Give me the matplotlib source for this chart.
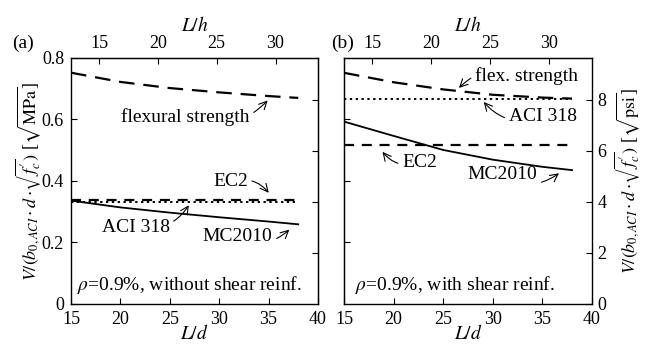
import matplotlib
matplotlib.use("Agg")
import matplotlib.pyplot as plt
from matplotlib.ticker import FixedLocator, NullFormatter

plt.rcParams['font.family'] = ['Liberation Serif', 'DejaVu Serif']
plt.rcParams['mathtext.fontset'] = 'stix'
plt.rcParams['font.size'] = 13

# span-to-depth ratios at which curves were read
ld = [15, 20, 25, 30, 35, 38]

# (a) without shear reinforcement, sqrt(MPa)
flex_a = [0.752, 0.722, 0.702, 0.688, 0.676, 0.670]
mc2010_a = [0.336, 0.314, 0.297, 0.282, 0.268, 0.259]
ec2_a = [0.338, 0.338]
aci_a = [0.333, 0.333]

# (b) with shear reinforcement, sqrt(psi)
flex_b = [9.05, 8.68, 8.40, 8.19, 8.08, 8.04]
mc2010_b = [7.14, 6.58, 6.03, 5.65, 5.37, 5.24]
ec2_b = [6.22, 6.22]
aci_b = [8.02, 8.02]

ld_flat = [15, 38]
h_over_d = 1.19       # L/d = 1.19 * L/h
psi_per_mpa = 12.04   # sqrt(MPa) -> sqrt(psi)

lh_ticks = [15, 20, 25, 30]
ld_ticks = [15, 20, 25, 30, 35, 40]

fig = plt.figure(figsize=(6.49, 3.49), dpi=100)
ax1 = fig.add_axes([0.1094, 0.129, 0.3806, 0.705])
ax2 = fig.add_axes([0.530, 0.129, 0.382, 0.705])

flex_dash = (0, (7, 4))
ec2_dash = (0, (4.5, 3.5))
aci_dot = (0, (1.2, 1.8))
txt = 14

# ---- panel (a)
ax1.plot(ld, flex_a, color='black', lw=1.6, ls=flex_dash)
ax1.plot(ld_flat, ec2_a, color='black', lw=1.6, ls=ec2_dash)
ax1.plot(ld_flat, aci_a, color='black', lw=1.4, ls=aci_dot)
ax1.plot(ld, mc2010_a, color='black', lw=1.3)
ax1.set_xlim(15, 40)
ax1.set_ylim(0, 0.8)
ax1.set_yticks([0, 0.2, 0.4, 0.6, 0.8])
ax1.set_yticklabels(['0', '0.2', '0.4', '0.6', '0.8'])
ax1.tick_params(axis='y', pad=5)
ax1.set_ylabel(r"$V/(b_{0,ACI}\cdot d\cdot\!\sqrt{f^{\prime}_{c}})$ [$\sqrt{\mathrm{MPa}}$]", labelpad=-1)

sec_r1 = ax1.secondary_yaxis('right', functions=(lambda v: v * psi_per_mpa, lambda v: v / psi_per_mpa))
sec_r1.yaxis.set_major_locator(FixedLocator([2, 4, 6, 8]))
sec_r1.yaxis.set_major_formatter(NullFormatter())
sec_r1.tick_params(direction='in', length=4)

arrow = dict(arrowstyle='->', lw=0.8, color='black', shrinkA=1, shrinkB=1)
ax1.annotate('flexural strength', xy=(35.0, 0.665), xytext=(33.1, 0.608),
             ha='right', va='center', fontsize=txt,
             arrowprops=dict(arrow, connectionstyle='arc3,rad=0.35'))
ax1.annotate('EC2', xy=(35.1, 0.358), xytext=(32.9, 0.397),
             ha='right', va='center', fontsize=txt,
             arrowprops=dict(arrow, connectionstyle='arc3,rad=-0.35'))
ax1.annotate('ACI 318', xy=(27.0, 0.325), xytext=(25.0, 0.25),
             ha='right', va='center', fontsize=txt,
             arrowprops=dict(arrow, connectionstyle='arc3,rad=0.35'))
ax1.annotate('MC2010', xy=(37.2, 0.245), xytext=(35.4, 0.218),
             ha='right', va='center', fontsize=txt,
             arrowprops=dict(arrow, connectionstyle='arc3,rad=0.35'))
ax1.text(15.6, 0.062, r"$\rho$=0.9%, without shear reinf.", ha='left', va='center', fontsize=txt)

# ---- panel (b)
ax2.plot(ld, flex_b, color='black', lw=1.6, ls=flex_dash)
ax2.plot(ld_flat, aci_b, color='black', lw=1.4, ls=aci_dot)
ax2.plot(ld_flat, ec2_b, color='black', lw=1.6, ls=ec2_dash)
ax2.plot(ld, mc2010_b, color='black', lw=1.3)
ax2.set_xlim(15, 40)
ax2.set_ylim(0, 0.8 * psi_per_mpa)
ax2.yaxis.tick_right()
ax2.yaxis.set_label_position('right')
ax2.set_yticks([0, 2, 4, 6, 8])
ax2.tick_params(axis='y', pad=4)
ax2.set_ylabel(r"$V/(b_{0,ACI}\cdot d\cdot\!\sqrt{f^{\prime}_{c}})$ [$\sqrt{\mathrm{psi}}$]", labelpad=4)

sec_l2 = ax2.secondary_yaxis('left', functions=(lambda v: v / psi_per_mpa, lambda v: v * psi_per_mpa))
sec_l2.yaxis.set_major_locator(FixedLocator([0.2, 0.4, 0.6]))
sec_l2.yaxis.set_major_formatter(NullFormatter())
sec_l2.tick_params(direction='in', length=4)

ax2.annotate('flex. strength', xy=(26.5, 8.42), xytext=(28.2, 8.93),
             ha='left', va='center', fontsize=txt,
             arrowprops=dict(arrow, connectionstyle='arc3,rad=0.35'))
ax2.annotate('ACI 318', xy=(29.0, 7.95), xytext=(31.6, 7.32),
             ha='left', va='center', fontsize=txt,
             arrowprops=dict(arrow, connectionstyle='arc3,rad=-0.35'))
ax2.annotate('EC2', xy=(18.8, 6.0), xytext=(20.85, 5.52),
             ha='left', va='center', fontsize=txt,
             arrowprops=dict(arrow, connectionstyle='arc3,rad=-0.35'))
ax2.annotate('MC2010', xy=(36.8, 5.15), xytext=(34.5, 5.05),
             ha='right', va='center', fontsize=txt,
             arrowprops=dict(arrow, connectionstyle='arc3,rad=0.35'))
ax2.text(16.1, 0.74, r"$\rho$=0.9%, with shear reinf.", ha='left', va='center', fontsize=txt)

# ---- shared axis styling
for ax in (ax1, ax2):
    ax.set_xticks(ld_ticks)
    ax.tick_params(axis='both', direction='in', length=4)
    ax.tick_params(axis='x', pad=5)
    ax.set_xlabel(r"$L/d$", labelpad=-3, fontsize=txt)
    for sp in ax.spines.values():
        sp.set_linewidth(1.0)
    top = ax.secondary_xaxis('top', functions=(lambda v: v / h_over_d, lambda v: v * h_over_d))
    top.set_xticks(lh_ticks)
    top.tick_params(direction='in', length=4, pad=4)
    top.set_xlabel(r"$L/h$", labelpad=3, fontsize=txt)

fig.text(0.036, 0.877, '(a)', ha='center', va='center', fontsize=txt)
fig.text(0.528, 0.877, '(b)', ha='center', va='center', fontsize=txt)

fig.savefig('out.png', dpi=100)
